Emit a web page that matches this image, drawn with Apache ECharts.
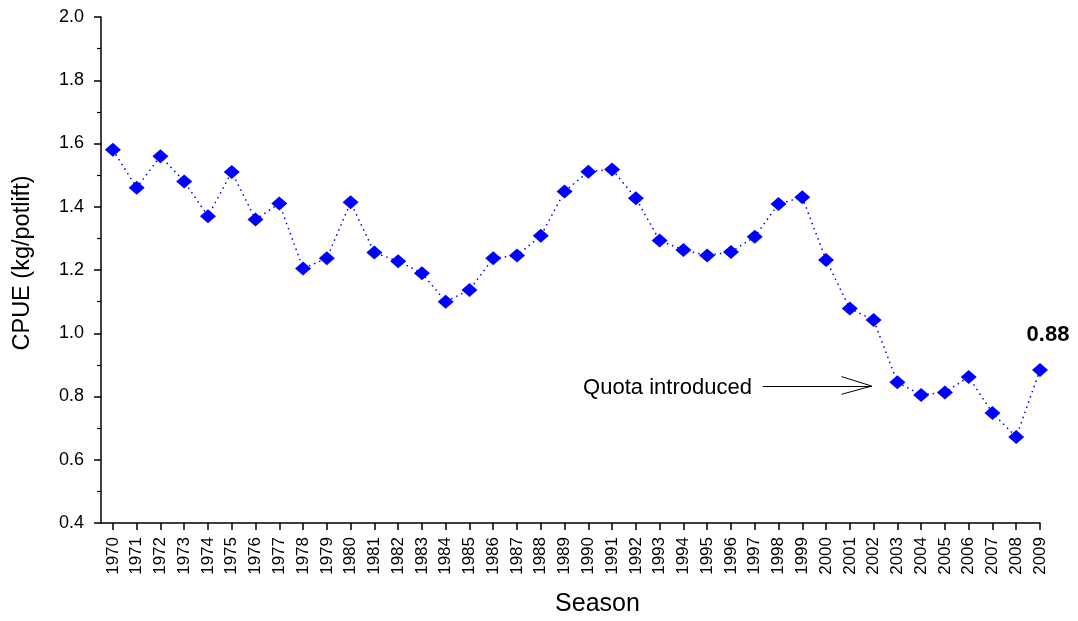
<!DOCTYPE html>
<html><head><meta charset="utf-8">
<script src="https://cdn.jsdelivr.net/npm/echarts@6/dist/echarts.min.js"></script>
<style>html,body{margin:0;padding:0;background:#fff}#c{width:1078px;height:621px}</style>
</head><body><div id="c"></div>
<script>
const years = [1970,1971,1972,1973,1974,1975,1976,1977,1978,1979,
               1980,1981,1982,1983,1984,1985,1986,1987,1988,1989,
               1990,1991,1992,1993,1994,1995,1996,1997,1998,1999,
               2000,2001,2002,2003,2004,2005,2006,2007,2008,2009];
const cpue = [1.58,1.46,1.56,1.48,1.37,1.51,1.36,1.41,1.205,1.237,
              1.414,1.255,1.228,1.19,1.10,1.137,1.237,1.246,1.308,1.448,
              1.511,1.518,1.427,1.293,1.263,1.246,1.257,1.305,1.409,1.43,
              1.232,1.078,1.042,0.845,0.805,0.813,0.862,0.748,0.672,0.884];
const yMin = 0.4, yMax = 2.0, yStep = 0.2;
const lastLabel = '0.88';
const quotaText = 'Quota introduced';
const quotaLabelAt = [1996.88, 0.827];
const arrowShaft = [[1997.34, 0.833], [2001.92, 0.833]];
const arrowWingUp = [[2000.65, 0.863], [2001.92, 0.833]];
const arrowWingDown = [[2000.65, 0.807], [2001.92, 0.833]];

const FONT = '"Liberation Sans", Arial, sans-serif';
const chart = echarts.init(document.getElementById('c'), null, {renderer: 'canvas'});

const seriesData = years.map((y, i) => {
  const item = {value: [y, cpue[i]]};
  if (i === years.length - 1) {
    item.label = {
      show: true, position: 'top', distance: 17, offset: [8, 0],
      formatter: lastLabel, fontFamily: FONT, fontWeight: 'bold',
      fontSize: 22, color: '#000'
    };
  }
  return item;
});

const seg = p => [{coord: p[0]}, {coord: p[1]}];

chart.setOption({
  animation: false,
  backgroundColor: '#fff',
  grid: {left: 101, right: 38, top: 17, bottom: 98, containLabel: false, outerBoundsMode: 'none'},
  xAxis: {
    type: 'value', min: 1969.5, max: 2009,
    name: 'Season', nameLocation: 'middle', nameGap: 69,
    nameTextStyle: {fontFamily: FONT, fontSize: 25, color: '#000', padding: [0, 0, 0, 54]},
    axisLine: {show: true, onZero: false, lineStyle: {color: '#000', width: 1.5}},
    axisTick: {show: true, customValues: years, length: 7, lineStyle: {color: '#000', width: 1.5}},
    axisLabel: {customValues: years, rotate: 90, margin: 14, fontFamily: FONT, fontSize: 17, color: '#000',
                formatter: v => String(Math.round(v))},
    splitLine: {show: false}
  },
  yAxis: {
    type: 'value', min: yMin, max: yMax, interval: yStep,
    name: 'CPUE (kg/potlift)', nameLocation: 'middle', nameGap: 66, nameRotate: 90,
    nameTextStyle: {fontFamily: FONT, fontSize: 23.5, color: '#000', padding: [0, 0, 0, 14]},
    axisLine: {show: true, lineStyle: {color: '#000', width: 1.5}},
    axisTick: {show: true, length: 7, lineStyle: {color: '#000', width: 1.5}},
    minorTick: {show: true, splitNumber: 2, length: 4, lineStyle: {color: '#000', width: 1.2}},
    axisLabel: {margin: 17, fontFamily: FONT, fontSize: 18, color: '#000', formatter: v => v.toFixed(1)},
    splitLine: {show: false}
  },
  series: [{
    type: 'line',
    data: seriesData,
    symbol: 'diamond',
    symbolSize: [16, 14],
    showAllSymbol: true,
    itemStyle: {color: '#0000ff'},
    lineStyle: {color: '#0000ff', width: 1.5, type: [1.5, 4]},
    markLine: {
      silent: true, symbol: ['none', 'none'],
      lineStyle: {color: '#000', width: 1, type: 'solid'},
      label: {show: false},
      data: [seg(arrowShaft), seg(arrowWingUp), seg(arrowWingDown)]
    },
    markPoint: {
      silent: true, symbol: 'circle', symbolSize: 0,
      itemStyle: {color: 'rgba(0,0,0,0)'},
      label: {show: true, position: 'left', distance: 0, formatter: quotaText,
              fontFamily: FONT, fontSize: 22, color: '#000'},
      data: [{coord: quotaLabelAt}]
    }
  }]
});
</script></body></html>
